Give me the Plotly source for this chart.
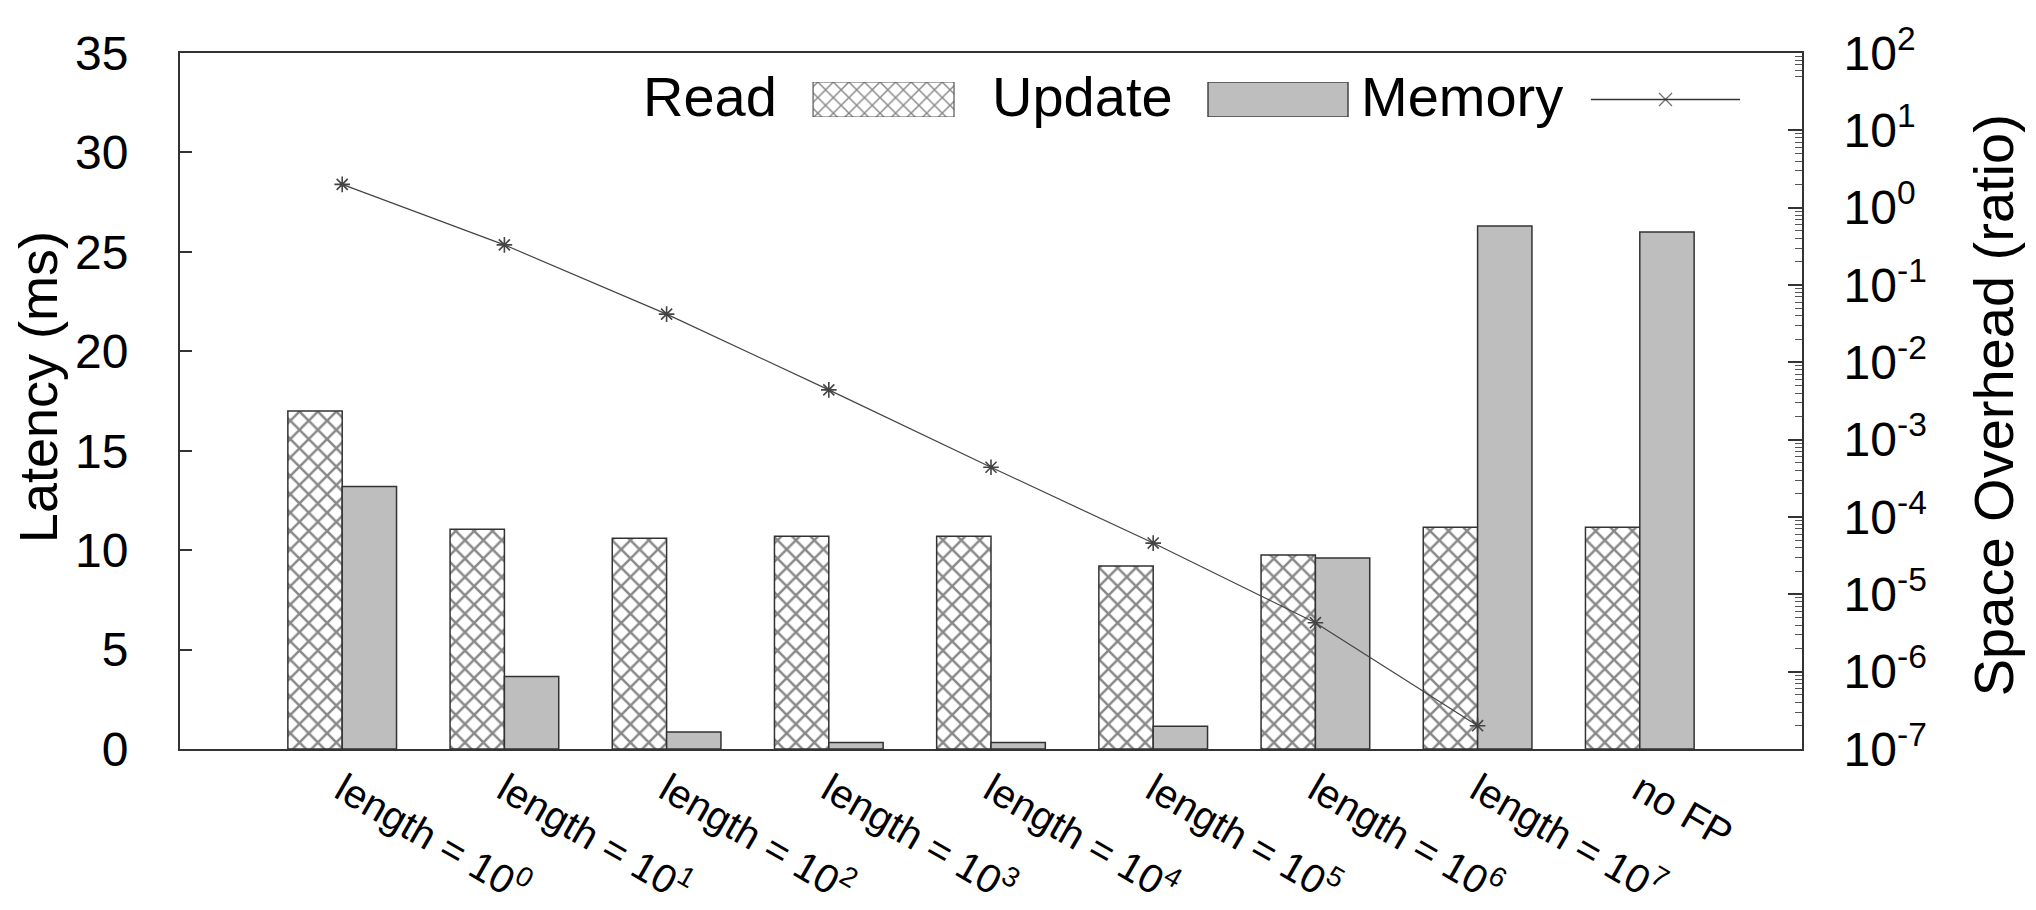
import plotly.graph_objects as go

# Configurations along the x axis
categories = [
    "length = 10<sup>0</sup>",
    "length = 10<sup>1</sup>",
    "length = 10<sup>2</sup>",
    "length = 10<sup>3</sup>",
    "length = 10<sup>4</sup>",
    "length = 10<sup>5</sup>",
    "length = 10<sup>6</sup>",
    "length = 10<sup>7</sup>",
    "no FP",
]

# Latency (ms)
read_ms = [17.0, 11.05, 10.6, 10.7, 10.7, 9.2, 9.75, 11.15, 11.15]
update_ms = [13.2, 3.65, 0.85, 0.33, 0.33, 1.15, 9.6, 26.3, 26.0]

# Space overhead ratio (no value for "no FP")
memory_ratio = [2.0, 0.33, 0.042, 0.0044, 4.4e-4, 4.6e-5, 4.3e-6, 2.0e-7]

# Right-axis decades
log_exponents = list(range(-7, 3))

FONT = "Liberation Sans, Arial, Helvetica, sans-serif"
INK = "#222222"
GREY = "#bebebe"
HATCH = dict(shape="x", size=13, solidity=0.35, fgcolor="#111111", bgcolor="white")

fig = go.Figure()

fig.add_trace(go.Bar(
    x=categories, y=read_ms, name="Read",
    marker=dict(color="white", pattern=HATCH,
                line=dict(color="#333333", width=1.5)),
    showlegend=False,
))
fig.add_trace(go.Bar(
    x=categories, y=update_ms, name="Update",
    marker=dict(color=GREY, line=dict(color="#333333", width=1.5)),
    showlegend=False,
))
fig.add_trace(go.Scatter(
    x=categories[:len(memory_ratio)], y=memory_ratio, name="Memory",
    yaxis="y2", mode="lines+markers",
    line=dict(color="#444444", width=1.2),
    marker=dict(symbol="asterisk-open", size=13,
                line=dict(color=INK, width=1.6)),
    showlegend=False,
))

# Key samples drawn on a helper axis pair spanning the plot width
key_hatch = [0.3903, 0.4772]
key_grey = [0.6338, 0.7201]
key_line = [0.8699, 0.9618]
fig.add_trace(go.Bar(
    x=[(key_hatch[0] + key_hatch[1]) / 2], y=[1], base=[0],
    width=[key_hatch[1] - key_hatch[0]], offset=[-(key_hatch[1] - key_hatch[0]) / 2],
    xaxis="x3", yaxis="y3",
    marker=dict(color="white", pattern=dict(HATCH, size=11, solidity=0.25),
                line=dict(color="#555555", width=1.2)),
    showlegend=False, hoverinfo="skip",
))
fig.add_trace(go.Bar(
    x=[(key_grey[0] + key_grey[1]) / 2], y=[1], base=[0],
    width=[key_grey[1] - key_grey[0]], offset=[-(key_grey[1] - key_grey[0]) / 2],
    xaxis="x3", yaxis="y3",
    marker=dict(color=GREY, line=dict(color="#444444", width=1.5)),
    showlegend=False, hoverinfo="skip",
))
fig.add_trace(go.Scatter(
    x=[key_line[0], (key_line[0] + key_line[1]) / 2, key_line[1]], y=[0.5, 0.5, 0.5],
    xaxis="x3", yaxis="y3", mode="lines+markers",
    line=dict(color="#333333", width=1.5),
    marker=dict(symbol="x-thin-open", size=[0, 13, 0],
                line=dict(color=INK, width=1.3)),
    showlegend=False, hoverinfo="skip",
))

key_font = dict(family=FONT, size=56, color="black")
title_font = dict(family=FONT, size=54, color="black")
annotations = [
    dict(text="Read", x=0.3693, y=0.9368, xref="paper", yref="paper",
         xanchor="right", yanchor="middle", showarrow=False, font=key_font),
    dict(text="Update", x=0.6134, y=0.9368, xref="paper", yref="paper",
         xanchor="right", yanchor="middle", showarrow=False, font=key_font),
    dict(text="Memory", x=0.8539, y=0.9368, xref="paper", yref="paper",
         xanchor="right", yanchor="middle", showarrow=False, font=key_font),
    dict(text="Latency (ms)", x=-0.0875, y=0.52, xref="paper", yref="paper",
         textangle=-90, xanchor="center", yanchor="middle", showarrow=False,
         font=title_font),
    dict(text="Space Overhead (ratio)", x=1.1178, y=0.494, xref="paper", yref="paper",
         textangle=-90, xanchor="center", yanchor="middle", showarrow=False,
         font=key_font),
]

minor_vals = [k * 10.0 ** e for e in log_exponents[:-1] for k in range(2, 10)]

fig.update_layout(
    width=2036, height=910,
    margin=dict(l=180, r=234, t=53, b=161, autoexpand=False),
    paper_bgcolor="white", plot_bgcolor="white",
    barmode="group", bargap=0.33, bargroupgap=0,
    font=dict(family=FONT, size=48, color="black"),
    annotations=annotations,
    xaxis=dict(
        range=[-1, 9], showline=True, mirror=True, linecolor="#333333", linewidth=2,
        ticks="", tickangle=30, showgrid=False, zeroline=False,
        tickfont=dict(family=FONT, size=40),
    ),
    yaxis=dict(
        range=[0, 35], dtick=5, tick0=0, ticks="inside", ticklen=12, tickwidth=1.5,
        tickcolor="#333333", showline=True, linecolor="#333333", linewidth=2,
        showgrid=False, zeroline=False, ticklabelstandoff=40,
        tickfont=dict(family=FONT, size=48),
    ),
    yaxis2=dict(
        type="log", range=[-7, 2], overlaying="y", side="right",
        tickmode="array", tickvals=[10.0 ** e for e in log_exponents],
        ticktext=["10<sup>%d</sup>" % e for e in log_exponents],
        ticks="inside", ticklen=14, tickwidth=1.5, tickcolor="#333333",
        minor=dict(tickmode="array", tickvals=minor_vals, ticks="inside",
                   ticklen=7, tickwidth=1, tickcolor="#555555", showgrid=False),
        showline=True, linecolor="#333333", linewidth=2, showgrid=False,
        zeroline=False, ticklabelstandoff=30,
        tickfont=dict(family=FONT, size=48),
    ),
    xaxis3=dict(domain=[0, 1], range=[0, 1], anchor="y3", visible=False,
                fixedrange=True),
    yaxis3=dict(domain=[0.908, 0.9583], range=[0, 1], anchor="x3", visible=False,
                fixedrange=True),
)

fig.write_html("out.html")
